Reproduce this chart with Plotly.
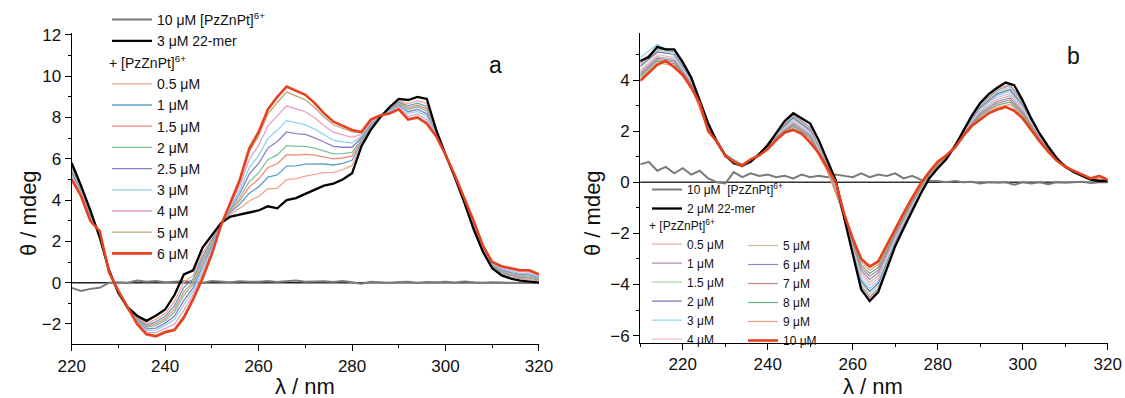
import plotly.graph_objects as go

# ---------------- Panel a data ----------------
wl_a = list(range(220, 322, 2))

a_free = [-0.25, -0.4, -0.3, -0.25, 0.0, 0.02, 0.0, 0.1, 0.05, 0.08, 0.02, 0.05, 0.07, 0.05, 0.0, 0.08,
          0.05, 0.02, 0.07, 0.04, 0.05, 0.08, 0.03, 0.06, 0.1, 0.04, 0.05, 0.07, 0.03, 0.08, 0.02, -0.05,
          0.05, 0.04, 0.0, 0.03, 0.05, 0.0, 0.03, 0.02, 0.04, 0.01, 0.06, 0.02, 0.0, 0.02, 0.0, 0.01,
          -0.02, 0.0, 0.01]
a_dna = [5.8, 4.7, 3.5, 2.2, 0.6, -0.5, -1.2, -1.6, -1.85, -1.6, -1.3, -0.6, 0.4, 0.6, 1.7, 2.3,
         2.9, 3.2, 3.3, 3.4, 3.5, 3.7, 3.6, 4.0, 4.1, 4.3, 4.5, 4.7, 4.8, 5.0, 5.3, 6.6,
         7.4, 8.0, 8.5, 8.9, 8.85, 9.0, 8.9, 7.4, 6.2, 5.1, 3.9, 2.6, 1.5, 0.7, 0.35, 0.2,
         0.1, 0.05, 0.0]
a_05 = [5.7, 4.6, 3.41, 2.25, 0.58, -0.48, -1.25, -1.67, -1.97, -1.78, -1.5, -0.91, 0.02, 0.35, 1.43, 2.14,
        2.88, 3.33, 3.61, 3.96, 4.18, 4.55, 4.57, 4.99, 5.04, 5.16, 5.26, 5.33, 5.34, 5.47, 5.68, 6.73,
        7.49, 8.02, 8.45, 8.81, 8.68, 8.82, 8.68, 7.35, 6.25, 5.12, 3.94, 2.67, 1.55, 0.75, 0.43, 0.29,
        0.19, 0.15, 0.07]
a_1 = [5.6, 4.55, 3.35, 2.29, 0.57, -0.47, -1.2, -1.72, -2.05, -1.9, -1.63, -1.11, -0.23, 0.18, 1.25, 2.03,
       2.87, 3.41, 3.81, 4.33, 4.64, 5.11, 5.22, 5.65, 5.66, 5.74, 5.76, 5.75, 5.7, 5.78, 5.93, 6.81,
       7.55, 8.03, 8.41, 8.75, 8.57, 8.7, 8.54, 7.31, 6.2, 5.13, 3.96, 2.72, 1.59, 0.79, 0.49, 0.35,
       0.25, 0.22, 0.12]
a_15 = [5.5, 4.5, 3.3, 2.32, 0.56, -0.46, -1.3, -1.76, -2.11, -2.0, -1.74, -1.28, -0.44, 0.04, 1.1, 1.94,
        2.86, 3.48, 3.98, 4.64, 5.02, 5.58, 5.76, 6.2, 6.18, 6.22, 6.18, 6.1, 6.0, 6.04, 6.14, 6.88,
        7.6, 8.04, 8.38, 8.7, 8.47, 8.6, 8.42, 7.28, 6.22, 5.14, 3.98, 2.76, 1.62, 0.82, 0.53, 0.4,
        0.3, 0.27, 0.16]
a_2 = [5.4, 4.45, 3.26, 2.34, 0.55, -0.45, -1.22, -1.79, -2.16, -2.08, -1.83, -1.42, -0.61, -0.07, 0.98, 1.87,
       2.85, 3.54, 4.12, 4.89, 5.32, 5.96, 6.19, 6.64, 6.6, 6.6, 6.52, 6.38, 6.24, 6.25, 6.31, 6.94,
       7.64, 8.05, 8.36, 8.66, 8.39, 8.52, 8.32, 7.26, 6.18, 5.15, 4.0, 2.79, 1.64, 0.84, 0.57, 0.44,
       0.34, 0.31, 0.19]
a_25 = [5.3, 4.4, 3.2, 2.38, 0.54, -0.44, -1.28, -1.84, -2.24, -2.2, -1.96, -1.62, -0.86, -0.24, 0.8, 1.76,
        2.84, 3.62, 4.32, 5.26, 5.78, 6.52, 6.84, 7.3, 7.22, 7.18, 7.02, 6.8, 6.6, 6.56, 6.56, 7.02,
        7.7, 8.06, 8.32, 8.6, 8.28, 8.4, 8.18, 7.22, 6.2, 5.16, 4.02, 2.84, 1.68, 0.88, 0.62, 0.5,
        0.4, 0.38, 0.24]
a_3 = [5.2, 4.35, 3.15, 2.41, 0.53, -0.43, -1.18, -1.88, -2.31, -2.3, -2.07, -1.79, -1.07, -0.38, 0.65, 1.67,
       2.83, 3.69, 4.49, 5.57, 6.16, 6.99, 7.38, 7.85, 7.74, 7.66, 7.44, 7.15, 6.9, 6.82, 6.77, 7.09,
       7.75, 8.07, 8.29, 8.55, 8.19, 8.3, 8.06, 7.19, 6.22, 5.17, 4.04, 2.88, 1.71, 0.91, 0.67, 0.55,
       0.45, 0.44, 0.28]
a_4 = [5.1, 4.3, 3.09, 2.45, 0.52, -0.42, -1.25, -1.93, -2.39, -2.43, -2.21, -2.01, -1.34, -0.56, 0.46, 1.55,
       2.82, 3.78, 4.71, 5.97, 6.65, 7.6, 8.08, 8.57, 8.42, 8.28, 7.99, 7.6, 7.29, 7.16, 7.04, 7.18,
       7.82, 8.08, 8.25, 8.49, 8.06, 8.17, 7.9, 7.15, 6.2, 5.18, 4.07, 2.93, 1.75, 0.95, 0.72, 0.62,
       0.52, 0.51, 0.33]
a_5 = [5.04, 4.25, 3.03, 2.49, 0.5, -0.41, -1.2, -1.98, -2.47, -2.55, -2.35, -2.22, -1.6, -0.73, 0.28, 1.45,
       2.8, 3.87, 4.92, 6.35, 7.11, 8.17, 8.73, 9.23, 9.04, 8.86, 8.49, 8.03, 7.65, 7.47, 7.3, 7.27,
       7.88, 8.1, 8.22, 8.43, 7.95, 8.05, 7.76, 7.12, 6.2, 5.19, 4.09, 2.98, 1.79, 0.99, 0.78, 0.68,
       0.58, 0.57, 0.38]
a_6 = [5.0, 4.2, 3.0, 2.5, 0.5, -0.4, -1.2, -2.0, -2.5, -2.6, -2.4, -2.3, -1.7, -0.8, 0.2, 1.4,
       2.8, 3.9, 5.0, 6.5, 7.3, 8.4, 9.0, 9.5, 9.3, 9.1, 8.7, 8.2, 7.8, 7.6, 7.4, 7.3,
       7.9, 8.1, 8.2, 8.4, 7.9, 8.0, 7.7, 7.1, 6.2, 5.2, 4.1, 3.0, 1.8, 1.0, 0.8, 0.7,
       0.6, 0.6, 0.4]

a_titr_names = ["0.5 μM", "1 μM", "1.5 μM", "2 μM", "2.5 μM", "3 μM", "4 μM", "5 μM", "6 μM"]
a_titr_vals = [a_05, a_1, a_15, a_2, a_25, a_3, a_4, a_5, a_6]
a_titr_cols = ["#f5a58e", "#5fa0c8", "#f08a78", "#7cc49a", "#8a80c6", "#8ed2ea", "#e6a0c8", "#b9a67c", "#e8411e"]

# ---------------- Panel b data ----------------
wl_b = list(range(210, 322, 2))
b_free = [0.7, 0.8, 0.45, 0.6, 0.35, 0.55, 0.3, 0.45, 0.15, 0.0, -0.05, 0.4, 0.2, 0.35, 0.25, 0.3,
          0.2, 0.25, 0.15, 0.3, 0.2, 0.25, 0.2, 0.3, 0.25, 0.2, 0.35, 0.2, 0.3, 0.25, 0.35, 0.15,
          0.25, 0.1, 0.05, 0.05, 0.0, 0.05, 0.0, 0.02, -0.05, 0.0, -0.02, 0.0, -0.1, 0.0, -0.05, 0.0,
          -0.08, 0.0, -0.02, 0.0, 0.02, -0.03, 0.0, 0.0]
b_dna = [4.75, 4.9, 5.3, 5.2, 5.2, 4.7, 4.1, 3.2, 2.3, 1.6, 1.05, 0.75, 0.65, 0.8, 1.1, 1.45,
         1.95, 2.4, 2.7, 2.5, 2.3, 1.65, 0.85, 0.08, -1.4, -2.8, -4.2, -4.65, -4.3, -3.4, -2.5, -1.8,
         -1.1, -0.45, 0.15, 0.55, 0.9, 1.4, 2.0, 2.6, 3.1, 3.45, 3.7, 3.9, 3.8, 3.2, 2.5, 1.9,
         1.4, 0.95, 0.6, 0.4, 0.25, 0.1, 0.05, 0.05]
b_10 = [3.97, 4.3, 4.6, 4.75, 4.5, 4.2, 3.7, 3.1, 2.0, 1.6, 1.05, 0.8, 0.65, 0.9, 1.05, 1.3,
        1.65, 1.95, 2.05, 1.9, 1.55, 1.15, 0.55, 0.0, -1.25, -2.2, -3.0, -3.3, -3.1, -2.45, -1.8, -1.2,
        -0.6, -0.05, 0.4, 0.8, 1.05, 1.35, 1.8, 2.2, 2.45, 2.7, 2.85, 2.95, 2.8, 2.5, 2.05, 1.6,
        1.2, 0.85, 0.6, 0.45, 0.3, 0.15, 0.25, 0.1]

wl_b_titr = [210, 214, 218, 222, 226, 230, 234, 238, 242, 246, 250, 254, 258, 262, 264, 266, 270, 274, 278,
             282, 286, 290, 294, 297, 300, 304, 308, 312, 316, 320]
b_05 = [4.70, 5.26, 5.16, 4.08, 2.28, 1.08, 0.62, 1.10, 1.93, 2.66, 2.16, 0.73, -1.39, -4.13, -4.57, -4.23, -2.46, -1.07, 0.17, 0.91, 1.99, 3.06, 3.65, 3.84, 3.16, 1.88, 0.94, 0.40, 0.10, 0.05]
b_1 = [4.66, 5.22, 5.12, 4.05, 2.26, 1.02, 0.68, 1.09, 1.91, 2.62, 2.13, 0.71, -1.38, -4.06, -4.49, -4.16, -2.42, -1.04, 0.18, 0.92, 1.98, 3.02, 3.60, 3.79, 3.12, 1.86, 0.94, 0.41, 0.11, 0.06]
b_15 = [4.59, 5.16, 5.06, 4.02, 2.24, 1.06, 0.60, 1.09, 1.89, 2.57, 2.08, 0.68, -1.37, -3.96, -4.38, -4.06, -2.36, -1.00, 0.20, 0.93, 1.96, 2.97, 3.53, 3.71, 3.06, 1.84, 0.93, 0.41, 0.11, 0.06]
b_2 = [4.53, 5.10, 5.00, 3.99, 2.22, 1.00, 0.66, 1.09, 1.87, 2.52, 2.03, 0.65, -1.36, -3.86, -4.27, -3.96, -2.30, -0.96, 0.22, 0.94, 1.94, 2.92, 3.46, 3.63, 3.00, 1.82, 0.92, 0.41, 0.11, 0.06]
b_3 = [4.87, 5.40, 4.95, 3.96, 2.19, 1.10, 0.70, 1.08, 1.84, 2.47, 1.98, 0.62, -1.35, -3.77, -4.16, -3.87, -2.25, -0.92, 0.24, 0.95, 1.93, 2.87, 3.39, 3.56, 2.95, 1.79, 0.91, 0.42, 0.12, 0.07]
b_4 = [4.40, 4.99, 4.89, 3.92, 2.17, 1.04, 0.63, 1.08, 1.82, 2.41, 1.93, 0.59, -1.33, -3.66, -4.04, -3.76, -2.19, -0.88, 0.26, 0.97, 1.91, 2.81, 3.32, 3.47, 2.89, 1.77, 0.91, 0.42, 0.12, 0.07]
b_5 = [4.33, 4.92, 4.82, 3.88, 2.14, 1.07, 0.67, 1.07, 1.79, 2.35, 1.88, 0.56, -1.32, -3.55, -3.92, -3.65, -2.12, -0.83, 0.29, 0.98, 1.89, 2.75, 3.24, 3.39, 2.82, 1.74, 0.90, 0.43, 0.13, 0.08]
b_6 = [4.26, 4.86, 4.76, 3.85, 2.11, 1.01, 0.61, 1.07, 1.76, 2.29, 1.82, 0.53, -1.31, -3.44, -3.80, -3.54, -2.06, -0.79, 0.31, 0.99, 1.87, 2.69, 3.16, 3.30, 2.76, 1.71, 0.89, 0.43, 0.13, 0.08]
b_7 = [4.19, 4.80, 4.70, 3.81, 2.08, 1.05, 0.69, 1.06, 1.73, 2.23, 1.77, 0.50, -1.29, -3.34, -3.68, -3.44, -2.00, -0.74, 0.33, 1.01, 1.86, 2.63, 3.09, 3.22, 2.70, 1.68, 0.88, 0.44, 0.14, 0.09]
b_8 = [4.13, 4.74, 4.64, 3.78, 2.06, 1.09, 0.64, 1.06, 1.71, 2.18, 1.72, 0.47, -1.28, -3.24, -3.57, -3.34, -1.94, -0.70, 0.35, 1.02, 1.84, 2.58, 3.02, 3.14, 2.64, 1.66, 0.87, 0.44, 0.14, 0.09]
b_9 = [4.05, 4.67, 4.57, 3.74, 2.03, 1.03, 0.66, 1.06, 1.68, 2.12, 1.66, 0.44, -1.27, -3.12, -3.44, -3.22, -1.87, -0.65, 0.38, 1.04, 1.82, 2.52, 2.94, 3.05, 2.57, 1.63, 0.86, 0.45, 0.15, 0.10]

b_col1_names = ["0.5 μM", "1 μM", "1.5 μM", "2 μM", "3 μM", "4 μM"]
b_col1_vals = [b_05, b_1, b_15, b_2, b_3, b_4]
b_col1_cols = ["#f2aaa2", "#b285b6", "#a2d8a0", "#7070b2", "#86d3f0", "#f2b6cc"]
b_col2_names = ["5 μM", "6 μM", "7 μM", "8 μM", "9 μM"]
b_col2_vals = [b_5, b_6, b_7, b_8, b_9]
b_col2_cols = ["#cbbb9c", "#8a8ac8", "#c28686", "#62b286", "#f29a82"]

FONT = "Liberation Sans, Arial, sans-serif"
SUP = "+ [PzZnPt]<sup>6+</sup>"
W, H = 1125, 398

fig = go.Figure()

# ---- panel a traces ----
fig.add_trace(go.Scatter(x=wl_a, y=a_free, mode="lines", name="10 μM [PzZnPt]<sup>6+</sup>",
                         line=dict(color="#7a7a7a", width=2), xaxis="x", yaxis="y", legend="legend"))
for nm, vals, col in zip(a_titr_names[:-1], a_titr_vals[:-1], a_titr_cols[:-1]):
    fig.add_trace(go.Scatter(x=wl_a, y=vals, mode="lines", name=nm, line=dict(color=col, width=1.3),
                             xaxis="x", yaxis="y", legend="legend2"))
fig.add_trace(go.Scatter(x=wl_a, y=a_dna, mode="lines", name="3 μM 22-mer",
                         line=dict(color="black", width=2.3), xaxis="x", yaxis="y", legend="legend"))
fig.add_trace(go.Scatter(x=wl_a, y=a_titr_vals[-1], mode="lines", name=a_titr_names[-1],
                         line=dict(color=a_titr_cols[-1], width=2.6), xaxis="x", yaxis="y", legend="legend2"))

# ---- panel b traces ----
fig.add_trace(go.Scatter(x=wl_b, y=b_free, mode="lines", name="10 μM  [PzZnPt]<sup>6+</sup>",
                         line=dict(color="#7a7a7a", width=2), xaxis="x2", yaxis="y2", legend="legend3"))
for nm, vals, col in zip(b_col1_names, b_col1_vals, b_col1_cols):
    fig.add_trace(go.Scatter(x=wl_b_titr, y=vals, mode="lines", name=nm, line=dict(color=col, width=1.2),
                             xaxis="x2", yaxis="y2", legend="legend4"))
for nm, vals, col in zip(b_col2_names, b_col2_vals, b_col2_cols):
    fig.add_trace(go.Scatter(x=wl_b_titr, y=vals, mode="lines", name=nm, line=dict(color=col, width=1.2),
                             xaxis="x2", yaxis="y2", legend="legend5"))
fig.add_trace(go.Scatter(x=wl_b, y=b_dna, mode="lines", name="2 μM 22-mer",
                         line=dict(color="black", width=2.3), xaxis="x2", yaxis="y2", legend="legend3"))
fig.add_trace(go.Scatter(x=wl_b, y=b_10, mode="lines", name="10 μM",
                         line=dict(color="#e8401c", width=2.6), xaxis="x2", yaxis="y2", legend="legend5"))

# zero lines
fig.add_shape(type="line", xref="x domain", yref="y", x0=0, x1=1, y0=0, y1=0,
              line=dict(color="#222222", width=1.5), layer="below")
fig.add_shape(type="line", xref="x2 domain", yref="y2", x0=0, x1=1, y0=0, y1=0,
              line=dict(color="#333333", width=1.5), layer="below")

axis_common = dict(showgrid=False, zeroline=False, showline=True, linecolor="black", linewidth=1.3,
                   ticks="outside", ticklen=6, tickwidth=1.3, tickcolor="black", automargin=False,
                   tickfont=dict(family=FONT, size=17, color="#111"))


def leg(px, py, size, title=None, iw=30):
    d = dict(x=px / W, y=1 - py / H, xanchor="left", yanchor="top", maxheight=1,
             bgcolor="rgba(0,0,0,0)", font=dict(size=size, family=FONT, color="#111"), tracegroupgap=0,
             itemwidth=iw)
    if title:
        d["title"] = dict(text=title, font=dict(size=size, family=FONT, color="#111"))
    return d


def label(text, px, py, size, angle=0):
    return dict(text=text, x=px / W, y=1 - py / H, xref="paper", yref="paper", showarrow=False,
                xanchor="center", yanchor="middle", textangle=angle,
                font=dict(size=size, family=FONT, color="#111"))


fig.update_layout(
    width=W, height=H,
    margin=dict(l=0, r=0, t=0, b=0, autoexpand=False),
    paper_bgcolor="white", plot_bgcolor="white",
    font=dict(family=FONT, color="#111"),
    xaxis=dict(domain=[0.0637, 0.4791], range=[220, 320], tick0=220, dtick=20, anchor="y",
               minor=dict(ticks="outside", ticklen=3, dtick=10, tick0=220, tickcolor="black"), **axis_common),
    yaxis=dict(domain=[0.1357, 0.9163], range=[-2.97, 12.08], tick0=0, dtick=2, anchor="x",
               minor=dict(ticks="outside", ticklen=3, dtick=1, tick0=0, tickcolor="black"), **axis_common),
    xaxis2=dict(domain=[0.5691, 0.9846], range=[210, 320], tick0=220, dtick=20, anchor="y2",
                minor=dict(ticks="outside", ticklen=3, dtick=10, tick0=210, tickcolor="black"), **axis_common),
    yaxis2=dict(domain=[0.1389, 0.9163], range=[-6.28, 5.83], tick0=0, dtick=2, anchor="x2",
                minor=dict(ticks="outside", ticklen=3, dtick=1, tick0=0, tickcolor="black"), **axis_common),
    legend=leg(107, 4, 14, iw=40),
    legend2=leg(107, 50, 14, SUP, iw=40),
    legend3=leg(647, 175, 12),
    legend4=leg(647, 214, 12, SUP),
    legend5=leg(743, 231, 12),
    annotations=[
        label("a", 495, 65, 23),
        label("b", 1073, 56, 23),
        label("θ / mdeg", 28, 213, 22, -90),
        label("θ / mdeg", 592, 213, 22, -90),
        label("λ / nm", 305, 386, 22),
        label("λ / nm", 873, 386, 22),
    ],
)

fig.write_html("out.html", config={"displayModeBar": False},
               post_script="document.body.style.margin='0';document.body.style.padding='0';")
